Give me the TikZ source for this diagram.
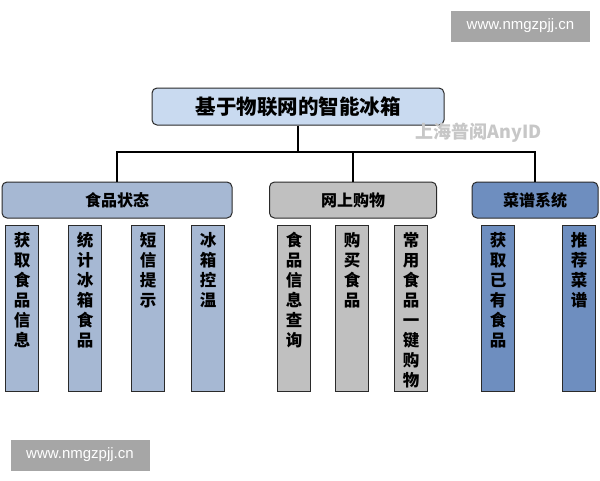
\documentclass[tikz,border=0pt]{standalone}
\usepackage{fontspec}
\setmainfont{Noto Sans CJK SC}
\newfontfamily\latinfont{Liberation Sans}
\definecolor{rootfill}{HTML}{C9DAF0}
\definecolor{catA}{HTML}{A6B8D3}
\definecolor{catB}{HTML}{C0C0C0}
\definecolor{catC}{HTML}{6E8EBF}
\definecolor{edge}{HTML}{2A2A2A}
\definecolor{wmbox}{HTML}{A6A6A6}
\tikzset{
  rootbox/.style={draw=edge, line width=1pt, rounded corners=5pt, fill=rootfill,
    minimum width=292pt, minimum height=37pt, inner sep=0pt,
    font=\fontsize{20.5}{24}\selectfont\bfseries},
  catbox/.style={draw=edge, line width=1pt, rounded corners=5pt,
    minimum height=36pt, inner sep=0pt, font=\fontsize{16}{18}\selectfont\bfseries},
  leafbox/.style={draw=edge, line width=1pt, minimum width=33pt, minimum height=166pt,
    inner sep=0pt, anchor=north west},
  leaftext/.style={anchor=north, align=center, inner sep=0pt,
    font=\fontsize{16.5}{20}\selectfont\bfseries},
  wire/.style={draw=black, line width=1.6pt},
  wmark/.style={fill=wmbox, text=white, inner sep=0pt, minimum width=139pt,
    minimum height=31pt, font=\latinfont\fontsize{15}{18}\selectfont}
}
\newcommand{\leaf}[4]{%
  \node[leafbox, fill=#3] (#1) at (#2,225) {};
  \node[leaftext] (#1t) at ([yshift=-7pt]#1.north) {#4};}
\begin{document}
\begin{tikzpicture}[x=1pt,y=-1pt]
\useasboundingbox (0,0) rectangle (600,480);
\fill[white] (0,0) rectangle (600,480);

\node[wmark] (wmtop) at (520.5,26) {www.nmgzpjj.cn};
\node[wmark] (wmbot) at (80,455) {www.nmgzpjj.cn};

\node[rootbox] (root) at (298,106.5) {基于物联网的智能冰箱};
\node[text=black!22, font=\fontsize{18}{20}\selectfont\bfseries] (wm2) at (479,133) {上海普阅AnyID};

\node[catbox, fill=catA, minimum width=230pt] (cat1) at (117,200) {食品状态};
\node[catbox, fill=catB, minimum width=167pt] (cat2) at (353,200) {网上购物};
\node[catbox, fill=catC, minimum width=126pt] (cat3) at (535,200) {菜谱系统};

\coordinate (j) at (298,152);
\draw[wire] (root.south) -- (j);
\draw[wire] (cat1.north) |- (j) -| (cat3.north);
\draw[wire] (cat2.north) -- (cat2.north |- j);

\leaf{a1}{5}{catA}{获\\取\\食\\品\\信\\息}
\leaf{a2}{68}{catA}{统\\计\\冰\\箱\\食\\品}
\leaf{a3}{131}{catA}{短\\信\\提\\示}
\leaf{a4}{191}{catA}{冰\\箱\\控\\温}
\leaf{b1}{277}{catB}{食\\品\\信\\息\\查\\询}
\leaf{b2}{335}{catB}{购\\买\\食\\品}
\leaf{b3}{394}{catB}{常\\用\\食\\品\\一\\键\\购\\物}
\leaf{c1}{481}{catC}{获\\取\\已\\有\\食\\品}
\leaf{c2}{562}{catC}{推\\荐\\菜\\谱}
\end{tikzpicture}
\end{document}
